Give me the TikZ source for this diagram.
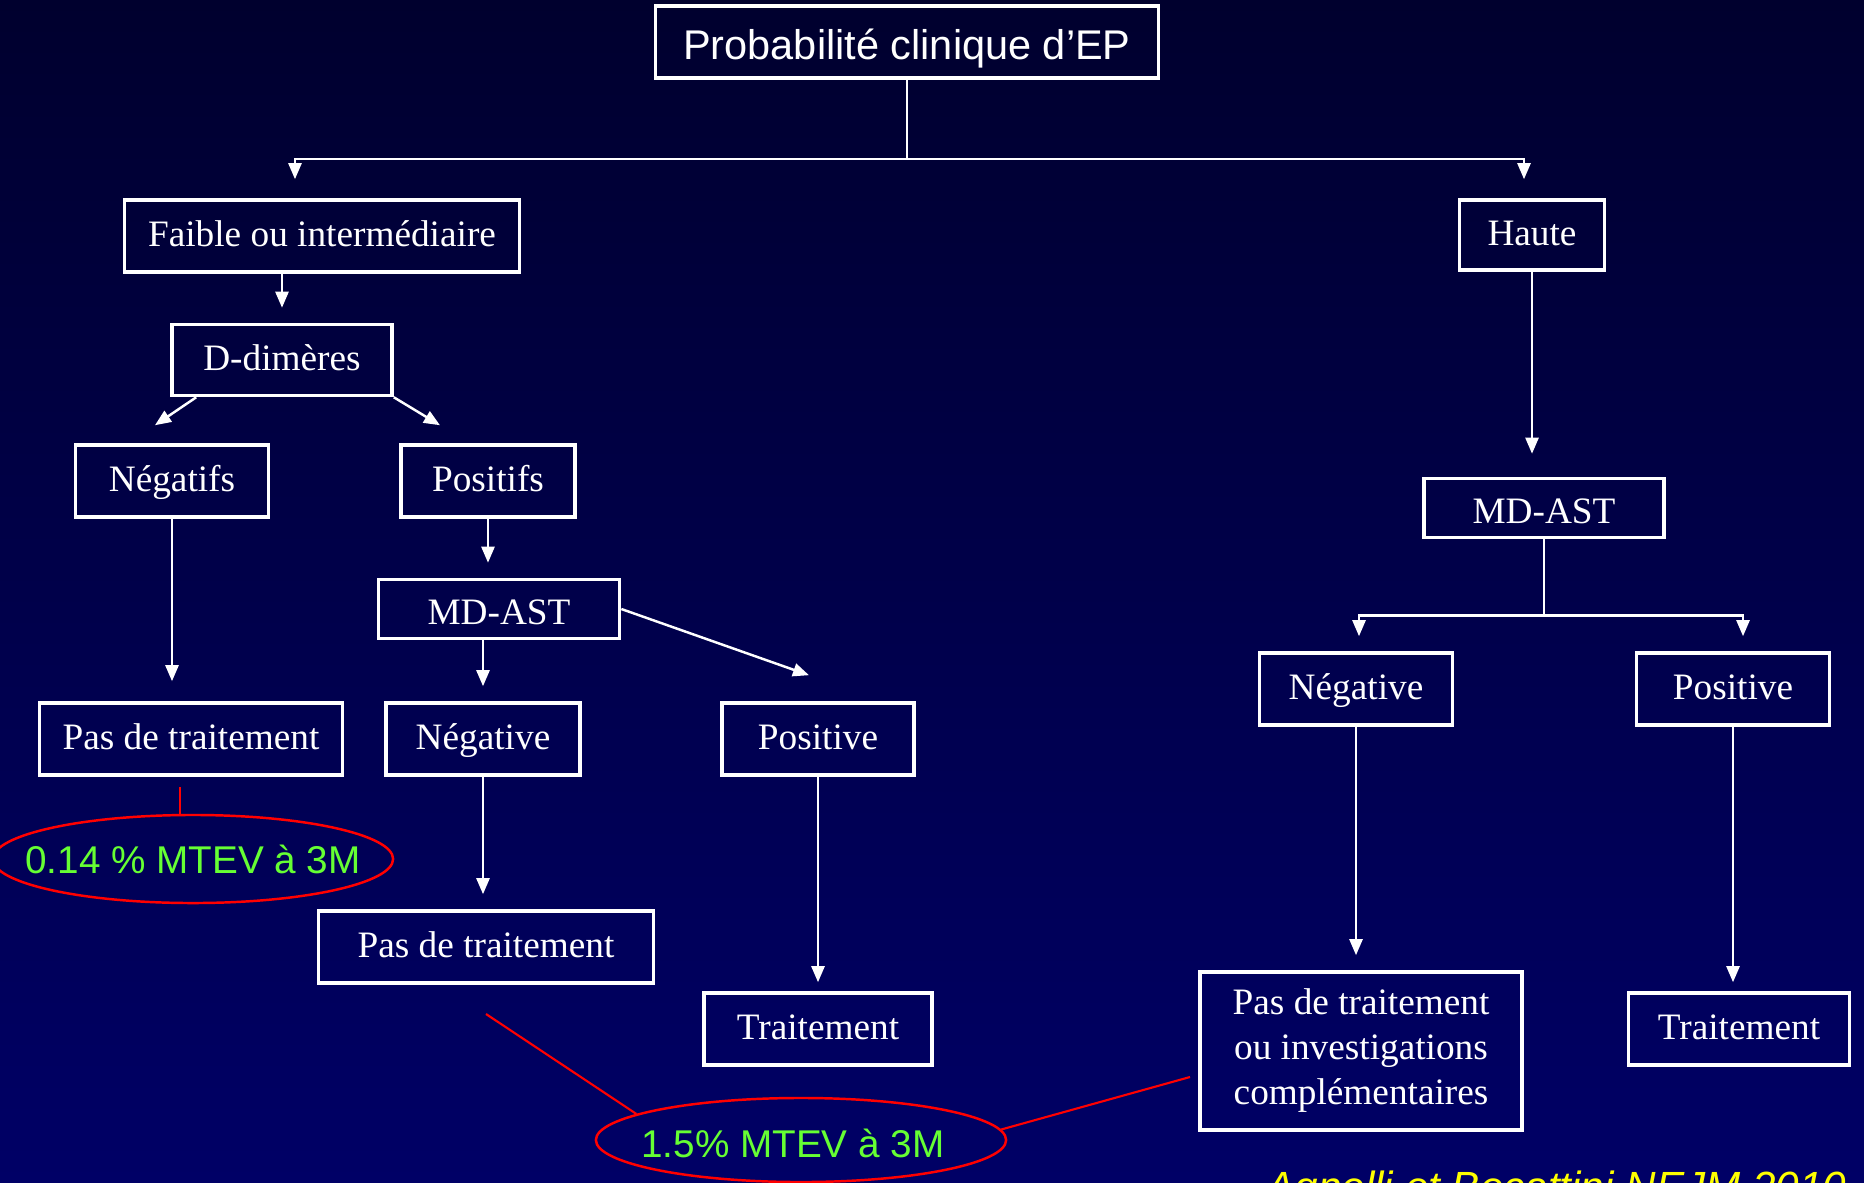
\documentclass[tikz,border=0pt]{standalone}
\usepackage{fontspec}
\setmainfont{Liberation Serif}
\newfontfamily\arialfont{Liberation Sans}
\usetikzlibrary{arrows.meta,shapes.geometric}
\definecolor{bgtop}{RGB}{0,0,46}
\definecolor{bgbottom}{RGB}{0,0,102}
\definecolor{mtevgreen}{RGB}{102,255,51}
\definecolor{refyellow}{RGB}{255,255,0}
\begin{document}
\begin{tikzpicture}[x=0.01cm, y=-0.01cm,
    frame node/.style={draw=white, line width=1pt, text=white, minimum height=0.72cm, inner sep=0pt, font=\fontsize{10.6}{12.8}\selectfont},
    box node/.style={frame node, text height=0.28cm, text depth=0.08cm},
    ast node/.style={frame node, minimum height=0.59cm, text height=0.38cm, text depth=0.08cm},
    arr/.style={draw=white, line width=0.7pt, -{Triangle[length=0.16cm,width=0.13cm]}, shorten >=0.15cm},
    link/.style={draw=white, line width=0.7pt},
    red line/.style={draw=red, line width=0.6pt},
    mtev text/.style={text=mtevgreen, inner sep=0pt, font=\arialfont\fontsize{11}{13}\selectfont},
    mtev node/.style={ellipse, draw=red, line width=0.7pt, inner sep=0pt}]
                \shade[top color=bgtop, bottom color=bgbottom] (0,0) rectangle (1864,1182);
                \clip (0,0) rectangle (1864,1182);

                \node[frame node, minimum width=5.03cm, text height=0.42cm, text depth=0.08cm, font=\arialfont\fontsize{11.8}{14}\selectfont] at (907, 42) (top) {Probabilité clinique d’EP};
                \node[box node, minimum width=3.95cm] at (322, 236) (faible) {Faible ou intermédiaire};
                \node[box node, minimum width=2.2cm, minimum height=0.71cm] at (282, 360) (ddim) {D-dimères};
                \node[box node, minimum width=1.93cm] at (172, 481) (neg1) {Négatifs};
                \node[box node, minimum width=1.74cm] at (488, 481) (pos1) {Positifs};
                \node[box node, minimum width=3.03cm] at (191, 739) (pas1) {Pas de traitement};
                \node[ast node, minimum width=2.41cm] at (499, 609) (mdl) {MD-AST};
                \node[box node, minimum width=1.94cm] at (483, 739) (negl) {Négative};
                \node[box node, minimum width=1.92cm] at (818, 739) (posm) {Positive};
                \node[box node, minimum width=3.35cm] at (486, 947) (pasm) {Pas de traitement};
                \node[box node, minimum width=2.28cm] at (818, 1029) (traitm) {Traitement};

                \node[box node, minimum width=1.45cm, minimum height=0.7cm] at (1532, 235) (haute) {Haute};
                \node[ast node, minimum width=2.4cm] at (1544, 508) (mdr) {MD-AST};
                \node[box node, minimum width=1.93cm] at (1356, 689) (negr) {Négative};
                \node[box node, minimum width=1.93cm] at (1733, 689) (posr) {Positive};
                \node[frame node, minimum width=3.22cm, minimum height=1.58cm, align=center] at (1361, 1051) (big) {Pas de traitement\\ou investigations\\complémentaires};
                \node[box node, minimum width=2.21cm] at (1739, 1029) (traitr) {Traitement};

                \node[mtev node, minimum width=4cm, minimum height=0.88cm, label={[mtev text]center:0.14 \% MTEV à 3M}] at (193, 859) (ell1) {};
                \node[mtev node, minimum width=4.1cm, minimum height=0.84cm, label={[mtev text, xshift=-0.08cm, yshift=-0.03cm]center:1.5\% MTEV à 3M}] at (801, 1140) (ell2) {};
                \node[anchor=base west, inner sep=0pt, text=refyellow, font=\arialfont\itshape\fontsize{12}{14}\selectfont] at (1266, 1201) (ref) {Agnelli et Becattini NEJM 2010};

                \coordinate (c1) at (180, 787);
                \coordinate (c2) at (486, 1014);
                \coordinate (c3) at (1190, 1077);

            \draw[link] (top.south) -- ++(0,79) coordinate (split);
            \draw[arr, shorten >=0pt] (split) -| ([xshift=-0.27cm,yshift=0.19cm]faible.north);
            \draw[arr, shorten >=0pt] (split) -| ([xshift=-0.08cm,yshift=0.19cm]haute.north);

            \draw[arr] (faible.south -| ddim.north) -- (ddim.north);
            \draw[arr, shorten >=0pt] ([xshift=0.26cm]ddim.south west) -- ([xshift=-0.17cm,yshift=0.18cm]neg1.north);
            \draw[arr, shorten >=0pt] (ddim.south east) -- ([xshift=-0.48cm,yshift=0.18cm]pos1.north);
            \draw[arr, shorten >=0.2cm] (neg1.south) -- (neg1.south |- pas1.north);
            \draw[arr] (pos1.south) -- (pos1.south |- mdl.north);
            \draw[arr] (mdl.south -| negl.north) -- (negl.north);
            \draw[arr, shorten >=0pt] (mdl.east) -- ([xshift=-0.09cm,yshift=0.26cm]posm.north);
            \draw[arr] (negl.south) -- (negl.south |- pasm.north);
            \draw[arr, shorten >=0.09cm] (posm.south) -- (posm.south |- traitm.north);

            \draw[arr, shorten >=0.23cm] (haute.south) -- (haute.south |- mdr.north);
            \draw[link] (mdr.south) -- ++(0,76) coordinate (split2);
            \draw[arr, shorten >=0pt] (split2) -| ([xshift=0.03cm,yshift=0.15cm]negr.north);
            \draw[arr, shorten >=0pt] (split2) -| ([xshift=0.1cm,yshift=0.15cm]posr.north);
            \draw[arr] (negr.south) -- (negr.south |- big.north);
            \draw[arr, shorten >=0.09cm] (posr.south) -- (posr.south |- traitr.north);

            % annotations
            \draw[red line] (c1) -- (c1 |- ell1.north);
            \draw[red line] (c2) -- (ell2.171);
            \draw[red line] (c3) -- (ell2.3);
\end{tikzpicture}
\end{document}
